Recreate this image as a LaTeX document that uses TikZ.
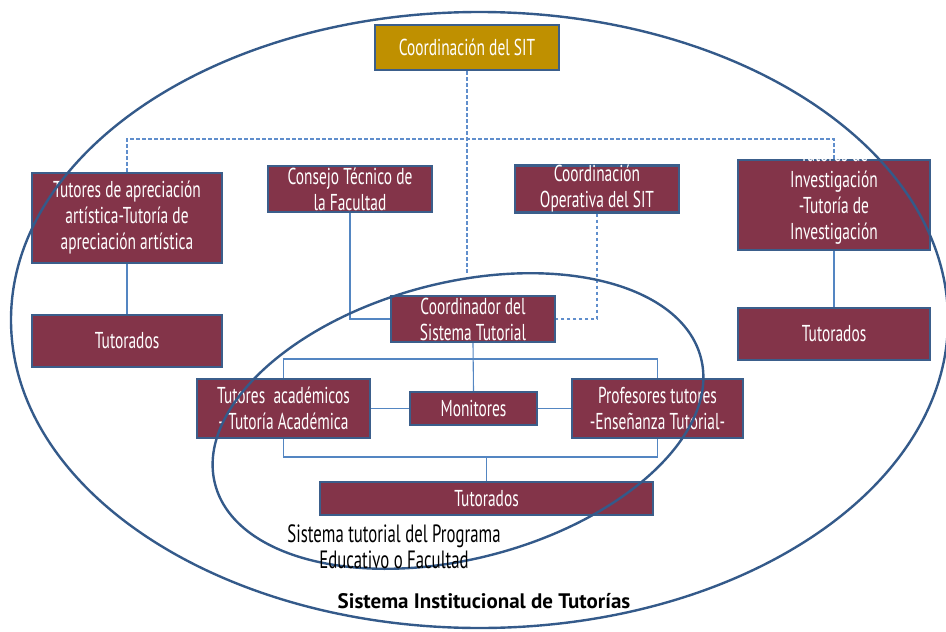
\documentclass[tikz,border=0pt]{standalone}
\usepackage{fontspec}
\setmainfont{PT Sans}[FakeStretch=0.67]
\newfontfamily\titulofont{PT Sans}
\usepackage{tikz}
\usetikzlibrary{arrows}
\usetikzlibrary{shapes}

\definecolor{vino}{RGB}{131,52,73}
\definecolor{oro}{RGB}{191,144,0}
\definecolor{borde}{RGB}{59,94,139}
\definecolor{linea}{RGB}{84,134,194}
\definecolor{guion}{RGB}{96,142,204}
\definecolor{elipse}{RGB}{52,90,138}

\begin{document}
\begin{tikzpicture}[x=1pt, y=-1pt]
    \tikzstyle{caja} = [draw=borde, line width=2.2pt, fill=vino, text=white,
	inner sep=0pt, align=center, font=\fontsize{23}{26}\selectfont]
    \tikzstyle{conn} = [draw=linea, line width=1.1pt]
    \tikzstyle{guia} = [draw=guion, line width=1.2pt, dash pattern=on 3.5pt off 2.5pt]
    \tikzstyle{anillo} = [draw=elipse, line width=2.4pt]
    \tikzstyle{rotulo} = [align=center, font=\fontsize{23}{26}\selectfont]

	\useasboundingbox (0,0) rectangle (946,632);

	\begin{scope}
		\path
			node[caja, fill=oro, minimum width=184pt, minimum height=45pt] (sit) at (467,47.5) {Coordinación del SIT}

			node[caja, minimum width=190pt, minimum height=90pt] (apre) at (127,218)
				{Tutores de apreciación\\artística-Tutoría de\\apreciación artística}
			node[caja, minimum width=190pt, minimum height=52pt] (tutL) at (127,341) {Tutorados}

			node[caja, minimum width=164pt, minimum height=46pt] (consejo) at (350,189)
				{Consejo Técnico de\\la Facultad}
			node[caja, minimum width=164pt, minimum height=46pt] (coordop) at (597,189)
				{Coordinación\\Operativa del SIT}

			node[caja, minimum width=192pt, minimum height=90pt] (inv) at (834,205) {}
			node[caja, minimum width=192pt, minimum height=52pt] (tutR) at (834,334) {Tutorados}

			node[caja, minimum width=164pt, minimum height=46pt] (cst) at (473,319)
				{Coordinador del\\Sistema Tutorial}
			node[caja, minimum width=173pt, minimum height=59pt] (acad) at (283.5,408.5)
				{Tutores\ \ académicos\\- Tutoría Académica}
			node[caja, minimum width=127pt, minimum height=33pt] (moni) at (473.5,408.5) {Monitores}
			node[caja, minimum width=171pt, minimum height=59pt] (prof) at (657.5,408.5)
				{Profesores tutores\\-Enseñanza Tutorial-}
			node[caja, minimum width=333pt, minimum height=33pt] (tutB) at (486.5,498.5) {Tutorados}
		;
		\node[rotulo, text=white] (invtxt) at (834,195)
			{Tutores de\\Investigación\\-Tutoría de\\Investigación};

		\coordinate (fin) at (467,275);
		\coordinate (dl) at (127,139);
		\coordinate (dr) at (834,139);
		\coordinate (jt) at (473,359);
		\coordinate (jb) at (486.5,457);

		\draw[guia] (sit.south) -- (fin);
		\draw[guia] (apre.north) -- (dl) -- (dr) -- (inv.north);
		\draw[guia] (coordop.south) |- (cst.east);

		\draw[conn] (consejo.south) |- (cst.west);
		\draw[conn] (cst.south) -- (moni.north);
		\draw[conn] (acad.north) |- (jt) -| (prof.north);
		\draw[conn] (acad.south) |- (jb) -| (prof.south);
		\draw[conn] (jb) -- (tutB.north);
		\path[conn]
			(apre) edge (tutL)
			(inv) edge (tutR)
			(acad) edge (moni)
			(moni) edge (prof)
		;
	\end{scope}

	\draw[anillo] (479.5,320) ellipse [x radius=468.5, y radius=308];
	\draw[anillo, rotate around={14.6:(458,421)}] (458,421) ellipse [x radius=251, y radius=138];

	\node[rotulo, font=\fontsize{25}{26}\selectfont] (etiq) at (394,546.5)
		{Sistema tutorial del Programa\\Educativo o Facultad};
	\node[rotulo, font=\fontsize{21}{26}\titulofont\bfseries] (titulo) at (484,601)
		{Sistema Institucional de Tutorías};
\end{tikzpicture}
\end{document}
